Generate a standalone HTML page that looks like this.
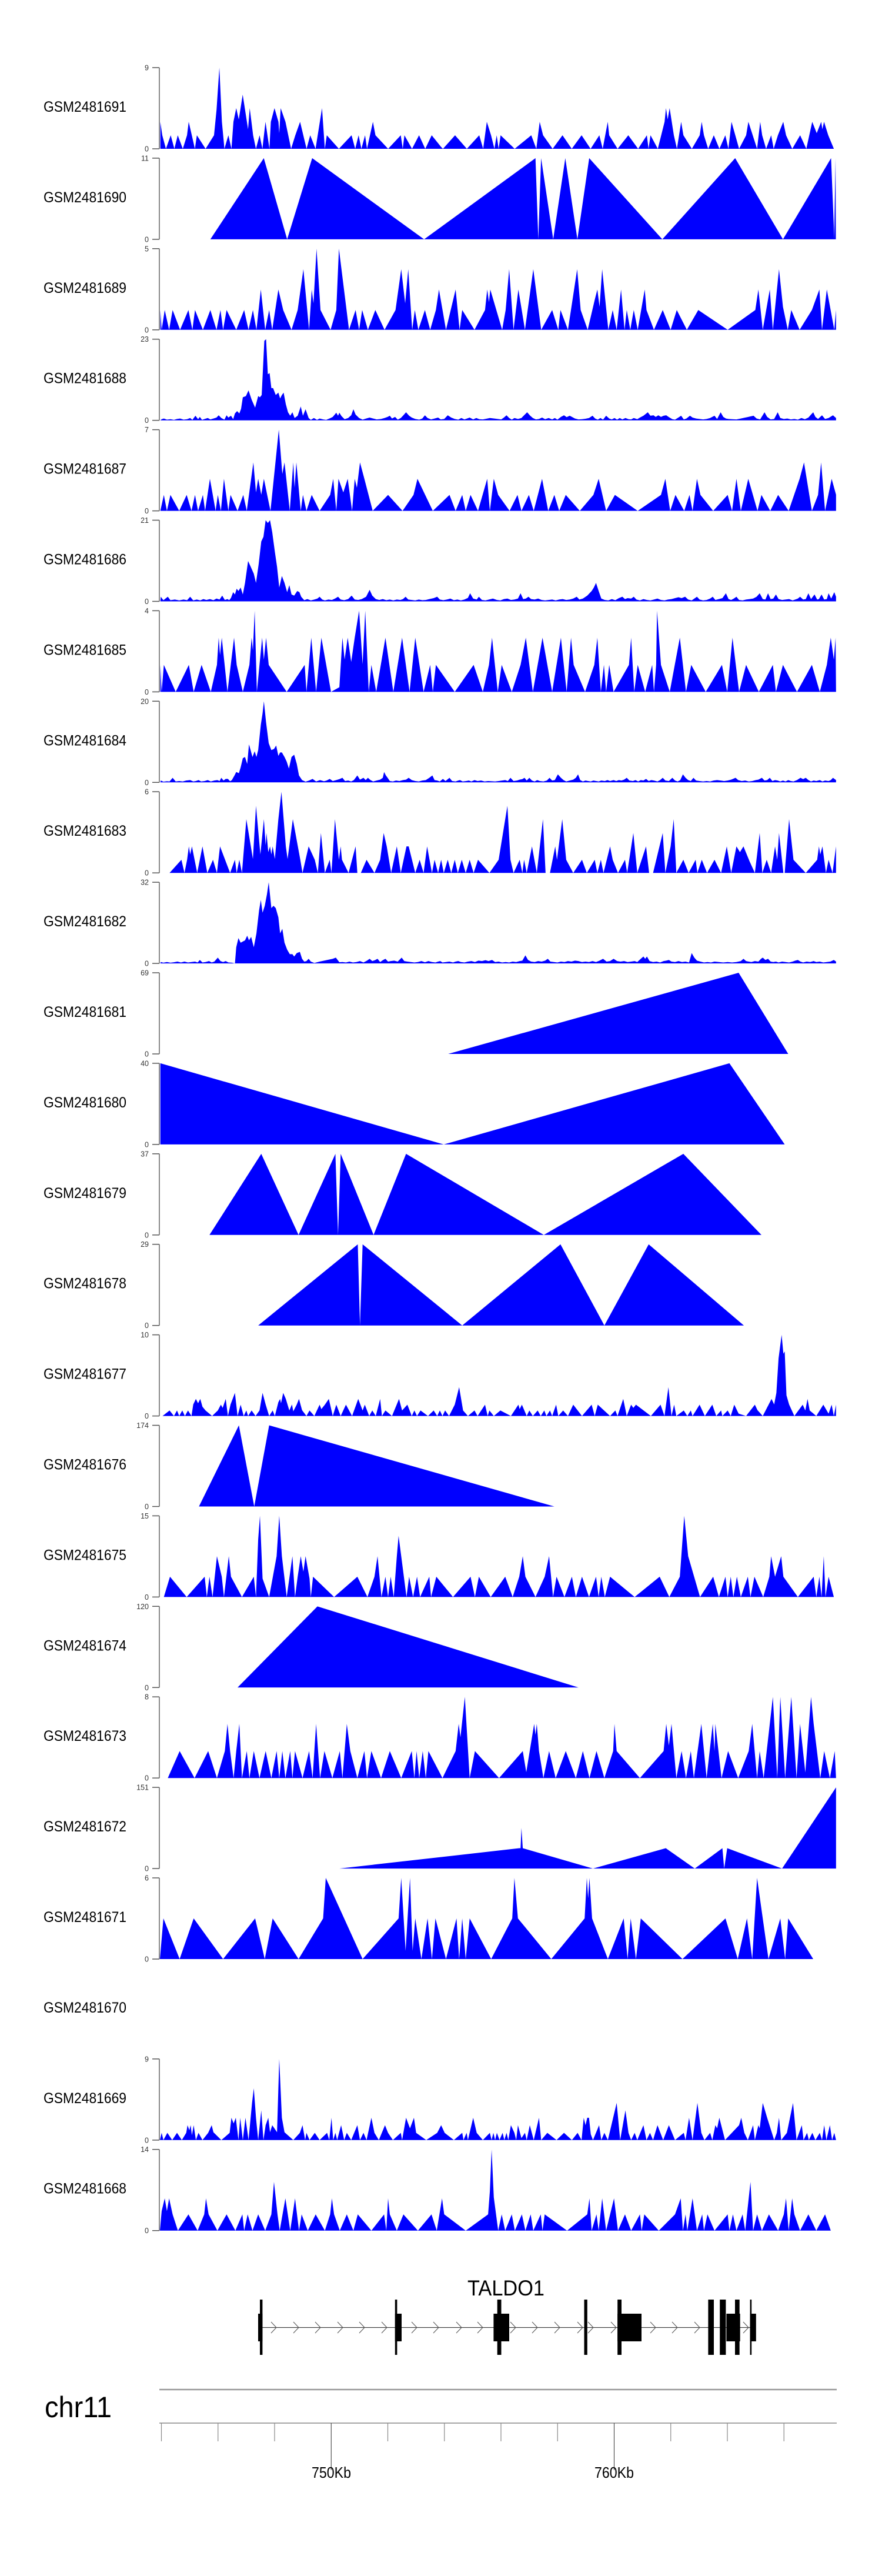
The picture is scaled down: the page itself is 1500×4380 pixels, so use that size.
<!DOCTYPE html>
<html>
<head>
<meta charset="utf-8">
<style>
html,body{margin:0;padding:0;background:#fff;}
svg{display:block;}
.lab{font-family:"Liberation Sans",Arial,sans-serif;font-size:25px;fill:#000;}
.num{font-family:"Liberation Sans",Arial,sans-serif;font-size:12.5px;fill:#333;text-anchor:end;}
.ax{stroke:#8a8a8a;stroke-width:2;}
.tk{stroke:#555;stroke-width:1.5;}
.d{fill:#0000ff;stroke:none;}
</style>
</head>
<body>
<svg width="1500" height="4380" viewBox="0 0 1500 4380" xmlns="http://www.w3.org/2000/svg">
<rect width="1500" height="4380" fill="#fff"/>

<!-- Track 0: GSM2481691 -->
<text class="lab" x="74" y="190" textLength="141" lengthAdjust="spacingAndGlyphs">GSM2481691</text>
<line class="ax" x1="271" y1="115" x2="271" y2="253"/>
<line class="tk" x1="259" y1="115" x2="271" y2="115"/><line class="tk" x1="259" y1="253" x2="271" y2="253"/>
<text class="num" x="253" y="119.5">9</text><text class="num" x="253" y="257.5">0</text>
<g transform="translate(0,253) scale(0.4783,-0.3325)"><polygon class="d" points="570,0 570,138 577,69 590,0 607,69 620,0 632,69 650,0 665,69 671,138 693,0 700,69 731,0 761,69 770,200 780,415 789,138 798,0 812,69 823,0 830,138 840,208 849,150 863,277 882,100 888,208 900,69 910,0 923,69 933,0 944,138 958,0 963,138 976,208 990,138 993,80 998,208 1015,138 1035,0 1050,69 1067,138 1090,0 1103,69 1122,0 1145,208 1155,0 1162,69 1205,0 1250,69 1263,0 1275,69 1285,0 1298,69 1305,0 1326,138 1335,69 1380,0 1425,69 1432,0 1438,69 1465,0 1490,69 1512,0 1535,69 1568,10 1575,0 1618,69 1660,0 1704,69 1718,0 1731,138 1746,69 1758,0 1766,69 1773,0 1780,69 1830,0 1889,69 1907,0 1919,138 1931,69 1965,0 2000,69 2033,0 2068,69 2100,0 2131,69 2143,0 2161,138 2166,69 2196,0 2234,69 2269,0 2300,69 2306,0 2313,69 2339,0 2363,138 2368,208 2374,150 2381,208 2396,69 2407,0 2422,138 2430,69 2460,0 2488,69 2495,138 2503,69 2518,0 2538,69 2558,0 2579,69 2590,0 2601,138 2628,0 2653,69 2661,138 2692,0 2703,138 2710,69 2724,0 2742,69 2751,0 2766,69 2785,138 2795,69 2817,0 2845,69 2867,0 2888,138 2904,80 2920,138 2924,100 2930,138 2945,69 2965,0"/></g>

<!-- Track 1: GSM2481690 -->
<text class="lab" x="74" y="343.9" textLength="141" lengthAdjust="spacingAndGlyphs">GSM2481690</text>
<line class="ax" x1="271" y1="268.9" x2="271" y2="406.9"/>
<line class="tk" x1="259" y1="268.9" x2="271" y2="268.9"/><line class="tk" x1="259" y1="406.9" x2="271" y2="406.9"/>
<text class="num" x="253" y="273.4">11</text><text class="num" x="253" y="411.4">0</text>
<g transform="translate(0,406.9) scale(0.4783,-0.3325)"><polygon class="d" points="748,0 938,415 1021,0 1110,415 1508,0 1904,415 1914,0 1924,415 1967,0 2010,415 2053,0 2095,415 2355,0 2614,415 2784,0 2955,415 2965,60 2966,0 2971,415 2972,0"/></g>

<!-- Track 2: GSM2481689 -->
<text class="lab" x="74" y="497.8" textLength="141" lengthAdjust="spacingAndGlyphs">GSM2481689</text>
<line class="ax" x1="271" y1="422.8" x2="271" y2="560.8"/>
<line class="tk" x1="259" y1="422.8" x2="271" y2="422.8"/><line class="tk" x1="259" y1="560.8" x2="271" y2="560.8"/>
<text class="num" x="253" y="427.3">5</text><text class="num" x="253" y="565.3">0</text>
<g transform="translate(260,560.8) scale(0.7462,-0.392)"><polygon class="d" points="17,0 17,86 20,0 27,86 37,0 45,86 62,0 81,86 90,0 96,86 114,0 131,86 145,0 154,86 160,0 168,86 190,0 208,86 218,0 228,86 236,0 246,175 256,0 265,86 272,0 286,175 297,86 316,0 330,86 343,263 356,0 362,175 366,115 373,352 382,86 405,0 418,86 424,352 447,0 462,86 470,0 477,86 490,0 507,86 528,0 553,86 566,263 575,115 582,263 591,0 597,86 605,0 620,86 632,0 645,86 652,175 668,0 690,175 699,0 705,86 733,0 757,86 762,175 766,120 769,175 796,0 804,86 812,263 822,0 833,175 848,0 867,263 885,0 910,86 924,0 929,86 946,0 967,263 975,86 991,0 1007,130 1013,175 1018,100 1024,263 1038,0 1048,86 1057,0 1067,175 1075,0 1080,86 1088,0 1096,86 1105,0 1121,175 1125,86 1142,0 1162,86 1180,0 1194,86 1217,0 1243,86 1310,0 1373,86 1380,175 1390,0 1406,175 1413,0 1427,263 1436,100 1447,0 1455,86 1474,0 1502,86 1519,175 1525,0 1536,175 1553,0 1557,86 1557,0"/></g>

<!-- Track 3: GSM2481688 -->
<text class="lab" x="74" y="651.7" textLength="141" lengthAdjust="spacingAndGlyphs">GSM2481688</text>
<line class="ax" x1="271" y1="576.7" x2="271" y2="714.7"/>
<line class="tk" x1="259" y1="576.7" x2="271" y2="576.7"/><line class="tk" x1="259" y1="714.7" x2="271" y2="714.7"/>
<text class="num" x="253" y="581.2">23</text><text class="num" x="253" y="719.2">0</text>
<g transform="translate(260,714.7) scale(0.7462,-0.392)"><polygon class="d" points="17,0 20,5 25,8 32,3 40,5 48,2 55,6 62,8 70,3 78,5 85,10 90,2 97,20 103,5 107,15 112,2 118,6 125,10 131,4 138,8 145,12 150,22 156,10 163,3 168,22 172,12 178,20 183,5 187,30 192,40 197,30 201,50 205,100 212,105 218,130 225,90 233,55 240,105 244,100 248,110 254,345 258,352 262,200 266,205 270,140 274,140 280,110 286,120 290,95 294,110 298,120 303,70 308,35 313,20 318,35 323,10 330,20 337,60 342,20 348,48 355,10 360,2 367,10 374,2 380,8 388,4 395,2 405,10 410,15 418,33 422,20 425,33 430,18 437,5 445,10 452,22 457,48 462,25 470,10 478,3 486,8 494,12 502,8 510,4 520,6 528,10 535,15 540,20 545,8 552,15 558,3 565,10 570,20 577,35 584,20 590,12 598,6 607,3 614,8 620,22 626,10 634,4 642,8 650,12 656,4 664,6 672,22 680,12 688,6 696,3 703,10 710,4 716,8 722,12 730,4 737,10 744,5 752,4 760,7 768,10 778,8 786,6 794,4 800,12 806,22 812,10 818,3 824,10 832,6 840,10 846,22 853,35 860,20 866,10 873,4 880,6 887,12 894,5 902,10 910,4 916,10 922,3 930,15 937,22 943,14 950,20 956,14 962,8 970,4 978,5 986,7 994,10 1002,20 1008,8 1014,3 1020,10 1026,3 1033,20 1040,8 1046,4 1052,10 1058,3 1064,10 1070,4 1077,10 1084,5 1090,4 1096,10 1104,5 1110,12 1118,20 1128,35 1134,20 1141,22 1146,15 1152,22 1158,15 1164,20 1170,22 1176,14 1184,5 1190,3 1196,10 1204,20 1210,4 1216,8 1224,20 1230,12 1238,8 1246,6 1254,4 1262,6 1270,10 1280,20 1286,6 1294,35 1300,15 1306,8 1312,6 1320,5 1330,4 1340,8 1350,12 1360,16 1369,20 1376,8 1384,4 1394,35 1400,15 1408,4 1416,6 1424,35 1430,10 1438,6 1446,8 1454,4 1462,6 1470,3 1478,10 1486,5 1494,12 1500,25 1505,35 1510,15 1516,6 1525,22 1532,6 1540,10 1550,22 1557,10 1557,0"/></g>

<!-- Track 4: GSM2481687 -->
<text class="lab" x="74" y="805.6" textLength="141" lengthAdjust="spacingAndGlyphs">GSM2481687</text>
<line class="ax" x1="271" y1="730.6" x2="271" y2="868.6"/>
<line class="tk" x1="259" y1="730.6" x2="271" y2="730.6"/><line class="tk" x1="259" y1="868.6" x2="271" y2="868.6"/>
<text class="num" x="253" y="735.1">7</text><text class="num" x="253" y="873.1">0</text>
<g transform="translate(260,868.6) scale(0.7462,-0.392)"><polygon class="d" points="17,0 25,69 32,0 40,69 60,0 77,69 88,0 96,69 103,0 114,69 119,0 130,139 143,0 148,69 155,0 162,139 172,0 177,69 193,0 206,69 214,0 229,210 235,80 240,139 247,70 253,139 268,0 287,352 295,160 300,210 312,0 320,210 323,100 327,210 337,0 342,69 350,0 362,69 380,0 404,69 411,139 418,0 423,139 434,80 444,139 454,0 460,139 465,100 472,210 482,139 501,0 536,69 569,0 594,69 603,139 638,0 676,69 690,0 705,69 713,0 724,69 741,0 762,139 768,0 777,139 787,69 813,0 831,69 840,0 857,69 868,0 887,139 901,0 915,69 926,0 941,69 973,0 1004,69 1016,139 1033,0 1053,69 1105,0 1158,69 1168,139 1179,0 1191,69 1211,0 1223,69 1230,0 1240,139 1248,69 1277,0 1310,69 1320,0 1330,139 1340,0 1357,139 1378,0 1387,69 1407,0 1425,69 1449,0 1474,139 1484,210 1502,0 1516,69 1523,210 1532,0 1547,139 1557,70 1557,0"/></g>

<!-- Track 5: GSM2481686 -->
<text class="lab" x="74" y="959.5" textLength="141" lengthAdjust="spacingAndGlyphs">GSM2481686</text>
<line class="ax" x1="271" y1="884.5" x2="271" y2="1022.5"/>
<line class="tk" x1="259" y1="884.5" x2="271" y2="884.5"/><line class="tk" x1="259" y1="1022.5" x2="271" y2="1022.5"/>
<text class="num" x="253" y="889">21</text><text class="num" x="253" y="1027">0</text>
<g transform="translate(260,1022.5) scale(0.7462,-0.392)"><polygon class="d" points="17,0 18,20 24,5 34,20 40,5 50,8 60,4 70,8 78,5 85,20 92,4 100,8 108,4 115,10 122,6 130,10 138,5 145,12 152,8 158,25 164,6 170,10 174,5 178,15 183,40 187,30 191,55 195,45 200,60 205,30 210,80 217,175 223,150 230,120 235,80 241,160 247,260 252,280 257,352 262,340 267,352 272,300 278,215 283,150 288,60 294,110 300,80 306,40 311,70 316,30 322,25 329,45 334,40 338,20 345,5 352,10 360,4 368,8 375,12 380,20 386,8 392,4 400,8 408,6 415,12 422,20 428,8 436,5 445,10 453,25 460,8 468,6 476,10 486,20 494,50 500,25 508,10 516,6 524,10 532,5 540,8 548,4 556,8 564,6 570,10 576,20 582,8 590,6 598,4 606,8 614,5 622,6 630,10 640,14 648,20 654,8 662,5 670,8 678,12 686,5 694,8 702,4 710,8 718,15 723,35 730,12 738,8 743,20 750,6 758,4 766,8 775,12 784,6 792,4 800,10 808,12 816,6 824,8 832,12 838,35 844,10 850,12 856,20 862,10 870,8 878,12 886,6 894,4 902,6 910,8 918,4 926,8 934,10 942,6 950,8 958,12 966,20 972,8 980,12 990,25 1000,45 1005,60 1010,80 1016,45 1022,12 1030,6 1038,4 1046,10 1054,5 1062,14 1070,20 1076,10 1082,14 1090,12 1096,20 1102,8 1110,4 1118,10 1126,6 1134,4 1142,8 1150,12 1158,6 1166,4 1174,8 1182,10 1190,14 1198,18 1205,14 1213,20 1220,8 1228,4 1234,12 1240,20 1246,8 1254,4 1262,6 1270,12 1276,20 1282,6 1290,10 1298,14 1306,35 1312,10 1318,6 1324,12 1330,20 1336,6 1344,4 1352,8 1360,10 1368,12 1376,20 1383,35 1390,10 1396,8 1402,35 1408,10 1414,12 1420,30 1426,10 1434,6 1442,8 1450,10 1458,4 1464,8 1470,12 1475,20 1482,8 1488,10 1494,35 1500,10 1508,30 1514,8 1518,10 1524,30 1530,8 1536,10 1540,35 1546,12 1553,40 1557,20 1557,0"/></g>

<!-- Track 6: GSM2481685 -->
<text class="lab" x="74" y="1113.4" textLength="141" lengthAdjust="spacingAndGlyphs">GSM2481685</text>
<line class="ax" x1="271" y1="1038.4" x2="271" y2="1176.4"/>
<line class="tk" x1="259" y1="1038.4" x2="271" y2="1038.4"/><line class="tk" x1="259" y1="1176.4" x2="271" y2="1176.4"/>
<text class="num" x="253" y="1042.9">4</text><text class="num" x="253" y="1180.9">0</text>
<g transform="translate(260,1176.4) scale(0.7462,-0.392)"><polygon class="d" points="17,0 17,117 20,0 25,117 52,0 82,117 93,0 111,117 132,0 146,117 150,235 153,160 157,235 170,0 185,235 191,117 205,0 220,117 225,235 228,180 232,352 237,0 249,235 253,140 258,235 264,117 305,0 346,117 350,0 361,235 372,0 384,235 406,0 425,20 432,235 437,140 444,235 452,130 460,235 470,352 478,120 484,352 492,0 498,117 509,0 530,235 548,0 568,235 585,0 598,235 617,0 632,117 638,0 645,117 688,0 731,117 752,0 766,117 773,235 786,0 795,117 818,0 838,117 850,235 866,0 888,235 910,0 930,235 943,0 953,235 959,117 985,0 1006,117 1013,235 1021,0 1028,117 1033,0 1040,117 1050,0 1085,117 1090,235 1097,0 1105,117 1122,0 1138,117 1142,0 1147,117 1149,352 1158,117 1178,0 1201,235 1215,0 1227,117 1260,0 1297,117 1309,0 1321,235 1336,0 1352,117 1381,0 1413,117 1420,0 1436,117 1468,0 1502,117 1520,0 1536,117 1545,235 1552,140 1556,235 1557,0"/></g>

<!-- Track 7: GSM2481684 -->
<text class="lab" x="74" y="1267.3" textLength="141" lengthAdjust="spacingAndGlyphs">GSM2481684</text>
<line class="ax" x1="271" y1="1192.3" x2="271" y2="1330.3"/>
<line class="tk" x1="259" y1="1192.3" x2="271" y2="1192.3"/><line class="tk" x1="259" y1="1330.3" x2="271" y2="1330.3"/>
<text class="num" x="253" y="1196.8">20</text><text class="num" x="253" y="1334.8">0</text>
<g transform="translate(260,1330.3) scale(0.7462,-0.392)"><polygon class="d" points="17,0 18,8 24,3 32,5 38,4 45,20 52,4 60,6 68,4 76,8 85,10 92,4 98,6 104,10 110,4 118,6 125,10 132,4 140,8 147,10 152,6 156,20 161,8 166,15 171,15 176,5 180,10 186,30 190,45 196,40 200,65 205,105 210,110 215,80 219,165 222,145 227,110 232,135 236,110 240,140 246,250 250,300 253,352 258,260 264,170 270,140 276,145 281,160 286,115 290,130 294,130 300,110 305,90 310,60 316,110 322,120 328,80 333,30 340,10 348,3 356,8 364,15 372,4 381,10 390,5 396,8 403,15 410,6 418,10 425,14 432,20 438,6 445,8 452,4 458,10 466,30 472,12 480,20 485,10 490,20 496,10 502,4 510,8 518,12 524,20 527,45 531,30 535,20 540,6 547,4 554,8 562,6 570,10 577,12 583,20 590,10 598,6 606,4 614,8 622,10 630,20 637,30 642,10 648,8 654,4 661,15 667,6 676,20 682,6 690,4 696,8 700,10 706,4 714,6 720,8 726,4 733,10 740,6 748,8 756,4 764,6 772,5 780,4 788,6 796,8 803,10 809,6 815,20 822,6 830,8 836,12 842,14 847,20 852,8 858,20 864,8 870,4 876,10 882,6 890,4 898,8 904,20 910,8 916,10 923,35 930,20 936,10 942,4 950,8 958,12 964,20 969,35 974,10 980,4 986,8 992,6 998,4 1004,8 1010,6 1016,4 1022,8 1030,6 1036,10 1042,6 1050,10 1056,6 1062,10 1068,8 1074,12 1080,20 1086,8 1094,6 1100,10 1106,4 1112,10 1118,8 1124,15 1130,6 1136,10 1142,8 1150,4 1156,10 1162,20 1168,8 1176,6 1184,20 1190,8 1196,4 1202,10 1208,35 1214,20 1220,10 1226,6 1232,20 1238,8 1246,6 1254,4 1262,6 1270,4 1278,8 1286,10 1294,8 1302,6 1310,8 1318,12 1328,20 1334,10 1342,6 1350,8 1358,4 1366,6 1374,10 1380,12 1388,20 1394,8 1400,10 1406,20 1412,6 1418,10 1424,8 1430,4 1436,8 1442,4 1448,10 1454,6 1460,4 1468,10 1476,20 1482,14 1488,20 1494,10 1500,4 1506,8 1512,6 1520,10 1526,4 1532,8 1540,6 1545,10 1550,20 1557,10 1557,0"/></g>

<!-- Track 8: GSM2481683 -->
<text class="lab" x="74" y="1421.2" textLength="141" lengthAdjust="spacingAndGlyphs">GSM2481683</text>
<line class="ax" x1="271" y1="1346.2" x2="271" y2="1484.2"/>
<line class="tk" x1="259" y1="1346.2" x2="271" y2="1346.2"/><line class="tk" x1="259" y1="1484.2" x2="271" y2="1484.2"/>
<text class="num" x="253" y="1350.7">6</text><text class="num" x="253" y="1488.7">0</text>
<g transform="translate(260,1484.2) scale(0.7462,-0.392)"><polygon class="d" points="38,0 65,57 72,0 78,57 82,115 85,80 89,115 101,0 113,115 124,0 137,57 146,0 153,115 176,0 187,57 191,0 197,57 203,0 213,233 228,60 235,291 245,80 253,233 257,120 259,173 263,90 267,115 270,80 273,115 278,60 286,233 293,352 303,115 307,60 319,233 336,57 341,0 355,115 369,57 376,0 383,173 392,0 403,57 407,0 415,233 424,57 428,115 431,57 446,0 462,115 466,0 474,0 487,57 505,0 518,57 526,173 533,115 543,0 556,115 565,0 578,115 583,115 598,0 608,57 617,0 625,115 636,0 642,57 650,0 657,57 663,0 672,57 680,0 688,57 695,0 704,57 713,0 722,57 731,0 741,57 767,0 788,57 808,291 815,57 822,0 836,57 842,0 846,57 852,0 864,115 875,0 889,233 895,0 905,0 917,115 921,57 933,233 942,57 958,0 978,57 989,0 1007,57 1013,0 1021,57 1027,0 1042,115 1048,57 1060,0 1076,57 1081,0 1095,173 1104,0 1124,115 1131,0 1140,0 1162,173 1168,0 1180,115 1187,233 1193,0 1209,57 1221,0 1237,57 1241,0 1251,57 1263,0 1280,57 1295,0 1308,115 1318,0 1330,115 1338,90 1346,115 1360,50 1372,0 1383,173 1389,0 1399,57 1409,0 1418,115 1423,57 1427,173 1437,0 1440,0 1450,233 1460,57 1488,0 1514,57 1518,115 1521,80 1526,115 1534,0 1540,57 1549,0 1557,115 1557,0"/></g>

<!-- Track 9: GSM2481682 -->
<text class="lab" x="74" y="1575.1" textLength="141" lengthAdjust="spacingAndGlyphs">GSM2481682</text>
<line class="ax" x1="271" y1="1500.1" x2="271" y2="1638.1"/>
<line class="tk" x1="259" y1="1500.1" x2="271" y2="1500.1"/><line class="tk" x1="259" y1="1638.1" x2="271" y2="1638.1"/>
<text class="num" x="253" y="1504.6">32</text><text class="num" x="253" y="1642.6">0</text>
<g transform="translate(260,1638.1) scale(0.7462,-0.392)"><polygon class="d" points="17,0 18,6 24,3 32,6 40,3 48,5 56,8 64,4 72,8 80,4 88,6 96,8 102,4 107,15 113,4 120,6 128,10 134,4 140,8 148,25 154,10 160,6 166,10 172,4 180,3 187,0 190,70 195,110 200,90 205,95 210,100 215,120 219,100 224,115 230,70 236,130 242,230 246,275 250,220 255,250 260,300 264,352 270,240 275,250 280,240 286,200 290,130 295,150 300,90 306,60 312,40 318,40 322,30 328,45 335,50 340,20 345,8 350,10 355,20 360,8 368,2 380,8 395,14 410,20 417,25 425,5 432,6 440,4 448,8 456,4 464,6 472,10 480,4 488,12 494,20 500,10 506,14 512,20 518,6 524,14 530,20 536,8 542,10 550,12 558,8 567,25 573,10 580,8 588,6 596,4 604,6 612,10 620,5 628,10 636,6 644,4 650,8 655,10 660,4 668,6 676,8 684,4 690,8 696,10 702,6 710,4 718,8 726,10 734,6 742,12 750,10 758,14 765,10 773,15 780,6 788,8 796,4 804,6 812,4 820,8 828,6 836,10 842,12 849,35 855,15 862,8 870,6 878,10 886,8 894,12 900,20 906,8 914,6 922,4 930,8 938,6 946,10 954,8 962,12 970,10 978,6 986,8 994,6 1002,10 1010,6 1018,12 1026,20 1034,8 1042,10 1050,20 1058,10 1066,8 1074,10 1082,6 1090,8 1098,10 1104,6 1112,20 1118,30 1122,20 1126,30 1132,10 1140,6 1148,8 1156,4 1164,10 1170,12 1176,15 1182,8 1190,6 1198,10 1206,6 1214,8 1222,4 1228,45 1234,25 1240,12 1248,8 1256,4 1264,6 1272,4 1280,8 1290,6 1300,4 1310,6 1320,4 1330,6 1340,10 1346,20 1352,10 1358,8 1364,6 1372,10 1380,8 1386,20 1390,25 1396,15 1402,20 1408,8 1414,6 1420,8 1426,4 1434,8 1442,6 1450,4 1458,8 1464,12 1470,15 1476,8 1482,4 1490,8 1498,6 1506,10 1512,6 1520,8 1528,4 1536,6 1544,8 1552,15 1557,8 1557,0"/></g>

<!-- Track 10: GSM2481681 -->
<text class="lab" x="74" y="1729" textLength="141" lengthAdjust="spacingAndGlyphs">GSM2481681</text>
<line class="ax" x1="271" y1="1654" x2="271" y2="1792"/>
<line class="tk" x1="259" y1="1654" x2="271" y2="1654"/><line class="tk" x1="259" y1="1792" x2="271" y2="1792"/>
<text class="num" x="253" y="1658.5">69</text><text class="num" x="253" y="1796.5">0</text>
<g transform="translate(260,1792) scale(0.7462,-0.392)"><polygon class="d" points="673,0 1335,352 1448,0"/></g>

<!-- Track 11: GSM2481680 -->
<text class="lab" x="74" y="1882.9" textLength="141" lengthAdjust="spacingAndGlyphs">GSM2481680</text>
<line class="ax" x1="271" y1="1807.9" x2="271" y2="1945.9"/>
<line class="tk" x1="259" y1="1807.9" x2="271" y2="1807.9"/><line class="tk" x1="259" y1="1945.9" x2="271" y2="1945.9"/>
<text class="num" x="253" y="1812.4">40</text><text class="num" x="253" y="1950.4">0</text>
<g transform="translate(260,1945.9) scale(0.7462,-0.392)"><polygon class="d" points="17,0 17,352 663,0 1314,352 1440,0"/></g>

<!-- Track 12: GSM2481679 -->
<text class="lab" x="74" y="2036.8" textLength="141" lengthAdjust="spacingAndGlyphs">GSM2481679</text>
<line class="ax" x1="271" y1="1961.8" x2="271" y2="2099.8"/>
<line class="tk" x1="259" y1="1961.8" x2="271" y2="1961.8"/><line class="tk" x1="259" y1="2099.8" x2="271" y2="2099.8"/>
<text class="num" x="253" y="1966.3">37</text><text class="num" x="253" y="2104.3">0</text>
<g transform="translate(260,2099.8) scale(0.7462,-0.392)"><polygon class="d" points="129,0 247,352 332,0 416,352 422,0 428,352 503,0 577,352 891,0 1209,352 1387,0"/></g>

<!-- Track 13: GSM2481678 -->
<text class="lab" x="74" y="2190.7" textLength="141" lengthAdjust="spacingAndGlyphs">GSM2481678</text>
<line class="ax" x1="271" y1="2115.7" x2="271" y2="2253.7"/>
<line class="tk" x1="259" y1="2115.7" x2="271" y2="2115.7"/><line class="tk" x1="259" y1="2253.7" x2="271" y2="2253.7"/>
<text class="num" x="253" y="2120.2">29</text><text class="num" x="253" y="2258.2">0</text>
<g transform="translate(260,2253.7) scale(0.7462,-0.392)"><polygon class="d" points="240,0 467,352 472,0 478,352 705,0 929,352 1029,0 1130,352 1347,0"/></g>

<!-- Track 14: GSM2481677 -->
<text class="lab" x="74" y="2344.6" textLength="141" lengthAdjust="spacingAndGlyphs">GSM2481677</text>
<line class="ax" x1="271" y1="2269.6" x2="271" y2="2407.6"/>
<line class="tk" x1="259" y1="2269.6" x2="271" y2="2269.6"/><line class="tk" x1="259" y1="2407.6" x2="271" y2="2407.6"/>
<text class="num" x="253" y="2274.1">10</text><text class="num" x="253" y="2412.1">0</text>
<g transform="translate(260,2407.6) scale(0.7462,-0.392)"><polygon class="d" points="22,0 38,24 48,0 55,24 60,0 67,24 73,0 80,24 88,0 92,50 98,74 103,55 108,74 113,40 120,24 135,0 148,24 155,49 159,35 166,74 171,0 177,50 187,100 193,0 200,49 207,0 213,24 217,0 225,24 234,0 243,24 250,100 257,50 265,0 273,24 278,0 286,60 290,74 292,55 297,100 303,74 311,24 317,50 320,20 328,50 333,74 340,25 350,0 357,24 368,0 380,49 384,30 392,49 401,74 410,0 418,49 428,0 440,49 454,0 468,74 478,24 483,49 493,0 500,24 508,0 518,74 522,0 530,24 545,0 561,74 568,24 580,49 590,0 596,24 602,0 610,24 627,0 640,24 648,0 654,24 660,0 666,24 675,0 688,49 698,125 707,24 718,0 733,24 740,0 757,49 763,0 767,24 777,0 792,24 816,0 833,49 836,30 841,49 852,0 858,24 866,0 877,24 884,0 892,24 897,0 905,24 910,0 919,49 924,0 935,24 946,0 958,49 978,0 1000,49 1007,0 1014,49 1042,0 1054,24 1059,0 1072,74 1080,0 1090,49 1095,35 1101,49 1135,0 1157,49 1166,0 1175,125 1182,0 1188,49 1193,0 1210,24 1218,0 1226,24 1230,0 1246,49 1258,0 1275,49 1284,0 1295,24 1298,0 1310,24 1317,0 1325,49 1335,10 1352,0 1372,49 1378,25 1390,0 1410,74 1416,50 1421,100 1426,250 1433,352 1437,270 1440,280 1444,90 1450,50 1462,0 1481,49 1487,24 1492,74 1497,24 1512,0 1528,49 1540,10 1547,49 1552,0 1557,49 1557,0"/></g>

<!-- Track 15: GSM2481676 -->
<text class="lab" x="74" y="2498.5" textLength="141" lengthAdjust="spacingAndGlyphs">GSM2481676</text>
<line class="ax" x1="271" y1="2423.5" x2="271" y2="2561.5"/>
<line class="tk" x1="259" y1="2423.5" x2="271" y2="2423.5"/><line class="tk" x1="259" y1="2561.5" x2="271" y2="2561.5"/>
<text class="num" x="253" y="2428">174</text><text class="num" x="253" y="2566">0</text>
<g transform="translate(260,2561.5) scale(0.7462,-0.392)"><polygon class="d" points="105,0 196,352 231,0 265,352 915,0"/></g>

<!-- Track 16: GSM2481675 -->
<text class="lab" x="74" y="2652.4" textLength="141" lengthAdjust="spacingAndGlyphs">GSM2481675</text>
<line class="ax" x1="271" y1="2577.4" x2="271" y2="2715.4"/>
<line class="tk" x1="259" y1="2577.4" x2="271" y2="2577.4"/><line class="tk" x1="259" y1="2715.4" x2="271" y2="2715.4"/>
<text class="num" x="253" y="2581.9">15</text><text class="num" x="253" y="2719.9">0</text>
<g transform="translate(260,2715.4) scale(0.7462,-0.392)"><polygon class="d" points="25,0 39,88 77,0 118,88 123,0 129,88 136,0 146,177 157,88 162,0 173,177 178,88 203,0 230,88 235,0 240,250 244,352 250,80 265,0 282,177 288,352 294,177 305,0 318,177 324,0 330,88 337,177 343,110 348,177 357,80 360,0 365,88 413,0 466,88 489,0 505,88 512,177 521,0 530,88 536,0 542,88 549,0 556,177 560,265 566,177 578,0 584,88 593,0 602,88 609,0 630,88 634,0 646,88 684,0 724,88 734,0 743,88 770,0 803,88 820,0 835,88 843,177 849,88 872,0 893,88 903,177 912,0 920,88 938,0 955,88 964,0 978,88 994,0 1010,88 1016,0 1022,88 1030,0 1042,88 1098,0 1155,88 1177,0 1201,88 1211,352 1220,177 1247,0 1277,88 1290,0 1305,88 1310,0 1317,88 1323,0 1331,88 1340,0 1356,88 1362,0 1371,88 1391,0 1405,88 1409,177 1418,88 1432,177 1437,88 1470,0 1506,88 1512,0 1519,88 1524,0 1529,177 1533,0 1540,88 1552,0"/></g>

<!-- Track 17: GSM2481674 -->
<text class="lab" x="74" y="2806.3" textLength="141" lengthAdjust="spacingAndGlyphs">GSM2481674</text>
<line class="ax" x1="271" y1="2731.3" x2="271" y2="2869.3"/>
<line class="tk" x1="259" y1="2731.3" x2="271" y2="2731.3"/><line class="tk" x1="259" y1="2869.3" x2="271" y2="2869.3"/>
<text class="num" x="253" y="2735.8">120</text><text class="num" x="253" y="2873.8">0</text>
<g transform="translate(260,2869.3) scale(0.7462,-0.392)"><polygon class="d" points="193,0 375,352 970,0"/></g>

<!-- Track 18: GSM2481673 -->
<text class="lab" x="74" y="2960.2" textLength="141" lengthAdjust="spacingAndGlyphs">GSM2481673</text>
<line class="ax" x1="271" y1="2885.2" x2="271" y2="3023.2"/>
<line class="tk" x1="259" y1="2885.2" x2="271" y2="2885.2"/><line class="tk" x1="259" y1="3023.2" x2="271" y2="3023.2"/>
<text class="num" x="253" y="2889.7">8</text><text class="num" x="253" y="3027.7">0</text>
<g transform="translate(260,3023.2) scale(0.7462,-0.3325)"><polygon class="d" points="34,0 61,138 95,0 126,138 146,0 164,138 170,277 176,138 184,0 190,138 197,277 203,0 214,138 220,0 230,138 243,0 257,138 270,0 282,138 288,0 295,138 302,0 313,138 318,0 324,138 341,0 356,138 364,0 372,277 381,0 391,138 409,0 426,138 432,0 442,277 450,138 466,0 482,138 488,0 498,138 520,0 540,138 566,0 590,138 596,0 601,138 607,0 615,138 622,0 628,138 660,0 690,138 697,277 701,208 711,415 722,0 734,138 789,0 843,138 851,30 869,277 872,221 875,277 880,138 890,0 903,138 918,0 941,138 964,0 980,138 995,0 1011,138 1029,0 1049,138 1052,277 1057,138 1110,0 1164,138 1170,277 1176,166 1182,277 1193,0 1205,138 1215,0 1226,138 1233,0 1250,277 1262,0 1276,277 1280,138 1282,277 1296,0 1311,138 1334,0 1358,138 1366,277 1377,0 1383,138 1392,0 1413,415 1423,0 1430,415 1441,0 1455,415 1467,0 1475,277 1487,28 1500,415 1506,277 1521,0 1530,138 1543,0 1554,138 1557,0"/></g>

<!-- Track 19: GSM2481672 -->
<text class="lab" x="74" y="3114.1" textLength="141" lengthAdjust="spacingAndGlyphs">GSM2481672</text>
<line class="ax" x1="271" y1="3039.1" x2="271" y2="3177.1"/>
<line class="tk" x1="259" y1="3039.1" x2="271" y2="3039.1"/><line class="tk" x1="259" y1="3177.1" x2="271" y2="3177.1"/>
<text class="num" x="253" y="3043.6">151</text><text class="num" x="253" y="3181.6">0</text>
<g transform="translate(260,3177.1) scale(0.7462,-0.3325)"><polygon class="d" points="425,0 835,104 838,104 840,208 843,104 1003,0 1169,104 1235,0 1298,104 1302,0 1309,104 1434,0 1557,415 1557,0"/></g>

<!-- Track 20: GSM2481671 -->
<text class="lab" x="74" y="3268" textLength="141" lengthAdjust="spacingAndGlyphs">GSM2481671</text>
<line class="ax" x1="271" y1="3193" x2="271" y2="3331"/>
<line class="tk" x1="259" y1="3193" x2="271" y2="3193"/><line class="tk" x1="259" y1="3331" x2="271" y2="3331"/>
<text class="num" x="253" y="3197.5">6</text><text class="num" x="253" y="3335.5">0</text>
<g transform="translate(260,3331) scale(0.7462,-0.3325)"><polygon class="d" points="16,0 24,208 61,0 93,208 160,0 233,208 255,0 273,208 332,0 388,208 394,415 478,0 560,208 566,415 576,42 586,415 592,42 598,208 612,0 626,208 636,0 644,208 668,0 692,208 698,0 705,208 713,0 722,208 771,0 819,208 824,415 832,208 908,0 984,208 989,415 992,311 995,415 1001,208 1037,0 1073,208 1082,0 1089,208 1101,0 1112,208 1207,0 1305,208 1333,0 1354,208 1366,0 1377,415 1403,0 1430,208 1441,0 1448,208 1505,0"/></g>

<!-- Track 21: GSM2481670 (empty) -->
<text class="lab" x="74" y="3421.9" textLength="141" lengthAdjust="spacingAndGlyphs">GSM2481670</text>

<!-- Track 22: GSM2481669 -->
<text class="lab" x="74" y="3575.8" textLength="141" lengthAdjust="spacingAndGlyphs">GSM2481669</text>
<line class="ax" x1="271" y1="3500.8" x2="271" y2="3638.8"/>
<line class="tk" x1="259" y1="3500.8" x2="271" y2="3500.8"/><line class="tk" x1="259" y1="3638.8" x2="271" y2="3638.8"/>
<text class="num" x="253" y="3505.3">9</text><text class="num" x="253" y="3643.3">0</text>
<g transform="translate(260,3638.8) scale(0.7462,-0.3325)"><polygon class="d" points="16,0 20,37 24,0 33,37 44,0 55,37 66,0 76,37 79,76 83,50 86,76 89,25 93,76 98,0 104,37 113,0 126,37 134,76 138,40 156,0 175,37 179,114 184,85 189,114 195,0 199,114 205,0 211,114 218,0 226,190 230,265 235,114 240,0 247,152 252,0 257,76 263,114 267,40 272,76 277,60 283,40 288,415 294,114 300,40 320,0 335,37 341,76 347,0 350,37 357,0 369,37 380,0 397,37 402,0 407,114 411,0 416,37 420,0 429,76 436,0 442,37 452,0 466,76 472,0 480,37 487,0 498,114 505,37 515,0 529,76 536,37 547,0 565,37 568,0 577,114 586,60 595,114 600,37 623,0 648,37 657,76 665,37 686,0 705,37 708,0 715,37 718,0 730,114 738,37 752,0 768,37 772,0 776,37 780,0 784,37 790,0 797,37 801,0 806,37 810,0 816,76 824,37 828,0 832,76 840,10 848,37 852,0 859,76 868,0 880,114 885,0 899,37 920,0 937,37 955,0 968,37 977,0 982,114 986,76 990,114 994,114 998,30 1003,0 1017,76 1022,0 1029,37 1037,0 1057,190 1065,0 1077,152 1084,37 1090,0 1098,37 1104,0 1118,76 1125,0 1133,37 1140,0 1150,76 1163,0 1176,76 1190,0 1210,37 1214,0 1222,114 1230,0 1241,190 1250,37 1257,0 1270,37 1275,0 1282,76 1286,60 1291,114 1304,0 1336,76 1341,114 1348,37 1356,0 1368,76 1372,0 1380,76 1383,60 1390,190 1400,114 1416,0 1422,37 1427,114 1432,0 1445,37 1459,190 1467,0 1479,76 1483,0 1491,37 1495,0 1503,37 1510,0 1520,37 1525,0 1530,76 1535,0 1543,76 1548,0 1553,37 1557,0"/></g>

<!-- Track 23: GSM2481668 -->
<text class="lab" x="74" y="3729.7" textLength="141" lengthAdjust="spacingAndGlyphs">GSM2481668</text>
<line class="ax" x1="271" y1="3654.7" x2="271" y2="3792.7"/>
<line class="tk" x1="259" y1="3654.7" x2="271" y2="3654.7"/><line class="tk" x1="259" y1="3792.7" x2="271" y2="3792.7"/>
<text class="num" x="253" y="3659.2">14</text><text class="num" x="253" y="3797.2">0</text>
<g transform="translate(260,3792.7) scale(0.7462,-0.3325)"><polygon class="d" points="16,0 20,100 27,165 32,100 37,165 45,83 57,0 81,83 102,0 117,83 121,165 127,83 147,0 168,83 188,0 204,83 208,0 216,83 227,0 240,83 256,0 270,83 276,249 284,83 289,0 302,165 313,0 324,165 333,0 339,83 353,0 371,83 392,0 404,83 408,165 413,83 426,0 442,83 457,0 467,83 498,0 527,83 532,0 536,165 540,83 556,0 571,83 604,0 635,83 647,0 659,165 664,83 713,0 764,83 768,200 772,415 777,170 787,0 795,83 803,0 818,83 825,0 841,83 849,0 861,83 867,0 884,83 888,0 893,83 944,0 990,83 995,165 1000,0 1011,83 1016,0 1024,165 1033,0 1051,165 1060,0 1076,83 1090,0 1110,83 1114,0 1120,83 1153,0 1190,83 1203,165 1208,0 1214,83 1218,0 1230,165 1240,0 1252,83 1256,0 1264,83 1280,0 1310,83 1314,0 1322,83 1330,0 1344,83 1350,0 1362,249 1368,0 1377,83 1388,0 1404,83 1425,0 1438,83 1443,165 1449,0 1457,165 1462,83 1475,0 1494,83 1512,0 1532,83 1545,0"/></g>

<!-- Gene model TALDO1 -->
<text x="795" y="3903" font-family="Liberation Sans, Arial, sans-serif" font-size="37" textLength="131" lengthAdjust="spacingAndGlyphs" fill="#000">TALDO1</text>
<line x1="446" y1="3957.5" x2="1280" y2="3957.5" stroke="#444" stroke-width="1.2"/>
<g fill="none" stroke="#555" stroke-width="1.1">
<polyline points="461,3948 470,3957.5 461,3967"/>
<polyline points="499,3948 508,3957.5 499,3967"/>
<polyline points="536,3948 545,3957.5 536,3967"/>
<polyline points="574,3948 583,3957.5 574,3967"/>
<polyline points="611,3948 620,3957.5 611,3967"/>
<polyline points="649,3948 658,3957.5 649,3967"/>
<polyline points="700,3948 709,3957.5 700,3967"/>
<polyline points="737,3948 746,3957.5 737,3967"/>
<polyline points="776,3948 785,3957.5 776,3967"/>
<polyline points="812,3948 821,3957.5 812,3967"/>
<polyline points="868,3948 877,3957.5 868,3967"/>
<polyline points="905,3948 914,3957.5 905,3967"/>
<polyline points="943,3948 952,3957.5 943,3967"/>
<polyline points="982,3948 991,3957.5 982,3967"/>
<polyline points="1000,3948 1009,3957.5 1000,3967"/>
<polyline points="1039,3948 1048,3957.5 1039,3967"/>
<polyline points="1106,3948 1115,3957.5 1106,3967"/>
<polyline points="1143,3948 1152,3957.5 1143,3967"/>
<polyline points="1181,3948 1190,3957.5 1181,3967"/>
<polyline points="1264,3948 1273,3957.5 1264,3967"/>
</g>
<g fill="#000">
<rect x="439" y="3934" width="7.4" height="47"/>
<rect x="442" y="3910" width="4.4" height="94"/>
<rect x="671.8" y="3934" width="11.2" height="47"/>
<rect x="671.8" y="3910" width="3.6" height="94"/>
<rect x="839.4" y="3934" width="26.6" height="47"/>
<rect x="845.7" y="3910" width="6.8" height="94"/>
<rect x="993.5" y="3910" width="5.3" height="94"/>
<rect x="1050.2" y="3934" width="40.8" height="47"/>
<rect x="1050.2" y="3910" width="6.8" height="94"/>
<rect x="1204.4" y="3910" width="9.6" height="94"/>
<rect x="1224.2" y="3910" width="10.2" height="94"/>
<rect x="1235.4" y="3934" width="23.3" height="47"/>
<rect x="1250" y="3910" width="7.7" height="94"/>
<rect x="1275.6" y="3934" width="10.2" height="47"/>
<rect x="1275.6" y="3910" width="2.6" height="94"/>
</g>

<!-- Chromosome axis -->
<text x="76" y="4110" font-family="Liberation Sans, Arial, sans-serif" font-size="50" textLength="114" lengthAdjust="spacingAndGlyphs" fill="#000">chr11</text>
<line x1="271" y1="4063" x2="1423" y2="4063" stroke="#999" stroke-width="2.5"/>
<line x1="271" y1="4120" x2="1423" y2="4120" stroke="#888" stroke-width="1.5"/>
<g stroke="#888" stroke-width="1.2">
<line x1="274.5" y1="4120" x2="274.5" y2="4151"/>
<line x1="370.75" y1="4120" x2="370.75" y2="4151"/>
<line x1="467" y1="4120" x2="467" y2="4151"/>
<line x1="659.5" y1="4120" x2="659.5" y2="4151"/>
<line x1="755.75" y1="4120" x2="755.75" y2="4151"/>
<line x1="852" y1="4120" x2="852" y2="4151"/>
<line x1="948.25" y1="4120" x2="948.25" y2="4151"/>
<line x1="1140.75" y1="4120" x2="1140.75" y2="4151"/>
<line x1="1237" y1="4120" x2="1237" y2="4151"/>
<line x1="1333.25" y1="4120" x2="1333.25" y2="4151"/>
</g>
<g stroke="#333" stroke-width="1">
<line x1="563.25" y1="4120" x2="563.25" y2="4200"/>
<line x1="1044.5" y1="4120" x2="1044.5" y2="4200"/>
</g>
<text x="563.5" y="4213" text-anchor="middle" font-family="Liberation Sans, Arial, sans-serif" font-size="26" textLength="67" lengthAdjust="spacingAndGlyphs" fill="#000">750Kb</text>
<text x="1044.5" y="4213" text-anchor="middle" font-family="Liberation Sans, Arial, sans-serif" font-size="26" textLength="67" lengthAdjust="spacingAndGlyphs" fill="#000">760Kb</text>
</svg>
</body>
</html>
